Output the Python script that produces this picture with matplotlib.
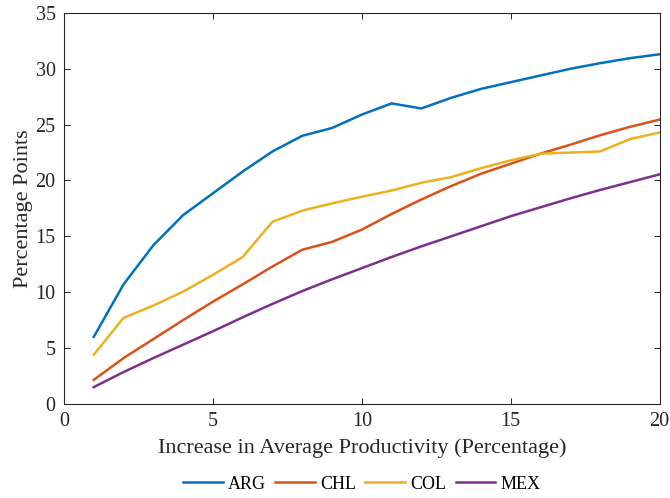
import numpy as np
import matplotlib
matplotlib.use("Agg")
import matplotlib.pyplot as plt

plt.rcParams['font.family'] = ['Liberation Serif', 'DejaVu Serif']
plt.rcParams['mathtext.fontset'] = 'stix'

# productivity increase (percent)
x = np.arange(1, 21)

arg = [6.0, 10.7, 14.2, 16.9, 18.85, 20.8, 22.6, 24.0, 24.7, 25.9,
       26.9, 26.45, 27.4, 28.2, 28.8, 29.4, 30.0, 30.5, 30.95, 31.3]
chl = [2.15, 4.1, 5.8, 7.5, 9.15, 10.7, 12.3, 13.8, 14.5, 15.6,
       17.0, 18.3, 19.5, 20.6, 21.5, 22.4, 23.2, 24.05, 24.8, 25.45]
col = [4.4, 7.7, 8.8, 10.05, 11.55, 13.15, 16.3, 17.3, 17.95, 18.55,
       19.1, 19.8, 20.3, 21.1, 21.8, 22.4, 22.5, 22.6, 23.7, 24.3]
mex = [1.5, 2.85, 4.1, 5.3, 6.5, 7.75, 8.95, 10.1, 11.15, 12.15,
       13.15, 14.1, 15.0, 15.9, 16.8, 17.6, 18.4, 19.15, 19.85, 20.55]

series = [("ARG", arg, "#0072BD"), ("CHL", chl, "#D95319"),
          ("COL", col, "#EDB120"), ("MEX", mex, "#7E2F8E")]

fig = plt.figure(figsize=(6.7, 4.98), dpi=100)
ax = fig.add_axes([0.0955, 0.189, 0.889, 0.785])

for name, vals, c in series:
    ax.plot(x, vals, color=c, lw=1.8, label=name)

ax.set_xlim(0, 20)
ax.set_ylim(0, 35)
ax.set_xticks(range(0, 21, 5))
ax.set_yticks(range(0, 36, 5))
ax.tick_params(direction="in", top=True, right=True, length=4, width=0.7,
               labelsize=14.5, colors="#262626", pad=6)
for sp in ax.spines.values():
    sp.set_linewidth(0.8)
    sp.set_color("#262626")

ax.set_xlabel("Increase in Average Productivity (Percentage)", fontsize=16, color="#262626", labelpad=5)
ax.set_ylabel("Percentage Points", fontsize=16, color="#262626", labelpad=2)

ax.legend(loc="upper center", bbox_to_anchor=(0.5, -0.142), ncol=4, frameon=False,
          fontsize=13, handlelength=2.2, columnspacing=0.5, handletextpad=0.3)

fig.savefig("out.png", dpi=100)
